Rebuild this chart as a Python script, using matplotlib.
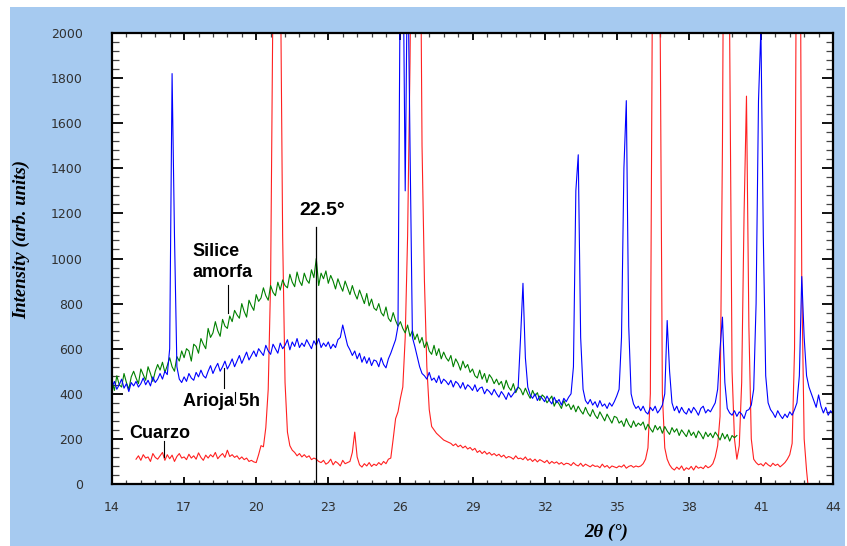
import numpy as np
import matplotlib
matplotlib.use('Agg')
import matplotlib.pyplot as plt
from matplotlib.patches import Rectangle

### Difractogramas (paso de 0.1 grados en 2theta)

# Cuarzo, de 15.0 a 43.0
cuarzo_x0, cuarzo_paso = 15.0, 0.1
cuarzo = [
    110, 125, 105, 130, 115, 120, 100, 135, 118, 110,   # 15
    125, 140, 105, 130, 112, 128, 100, 122, 135, 115,   # 16
    120, 108, 132, 115, 125, 110, 138, 118, 105, 128,   # 17
    115, 130, 120, 140, 112, 125, 135, 118, 150, 122,   # 18
    130, 118, 125, 110, 120, 108, 115, 100, 105, 98,    # 19
    95, 130, 170, 165, 250, 420, 900, 2200, 3400, 3400, # 20
    2400, 1100, 450, 230, 170, 150, 140, 125, 135, 120, # 21
    130, 118, 125, 108, 115, 110, 100, 95, 105, 88,     # 22
    95, 110, 85, 100, 92, 80, 105, 90, 95, 100,         # 23
    140, 230, 120, 85, 75, 90, 80, 95, 78, 88,          # 24
    82, 95, 85, 100, 90, 110, 115, 200, 290, 320,       # 25
    380, 430, 650, 1100, 1870, 3000, 4000, 4000, 3000, 1500,  # 26
    900, 520, 330, 255, 240, 225, 215, 205, 195, 190,   # 27
    185, 180, 170, 178, 165, 172, 160, 168, 155, 162,   # 28
    150, 158, 140, 148, 135, 145, 132, 140, 128, 135,   # 29
    125, 132, 120, 128, 115, 122, 118, 110, 125, 112,   # 30
    115, 108, 120, 105, 112, 100, 110, 98, 108, 102,    # 31
    95, 105, 90, 100, 92, 98, 88, 95, 85, 92,           # 32
    90, 82, 95, 85, 80, 92, 78, 88, 82, 76,             # 33
    85, 78, 80, 72, 88, 75, 82, 70, 80, 76,             # 34
    72, 80, 75, 85, 70, 78, 82, 74, 80, 76,             # 35
    80, 90, 110, 160, 400, 2500, 3800, 3800, 2200, 400, # 36
    160, 110, 85, 70, 62, 75, 65, 80, 60, 72,           # 37
    65, 78, 62, 80, 70, 75, 68, 82, 72, 78,             # 38
    90, 120, 170, 300, 1500, 3500, 3500, 2000, 500, 200,  # 39
    110, 170, 450, 1200, 1720, 700, 200, 110, 95, 85,   # 40
    90, 80, 95, 85, 78, 92, 82, 88, 76, 85,             # 41
    95, 110, 130, 180, 600, 3000, 3500, 900, 200, 60,   # 42
    -50,                                                # 43
]

# Arioja 5h, de 14.0 a 44.0
arioja_x0, arioja_paso = 14.0, 0.1
arioja = [
    430, 455, 420, 440, 465, 425, 445, 410, 450, 435,   # 14
    455, 430, 445, 470, 440, 460, 435, 475, 450, 465,   # 15
    490, 465, 500, 485, 600, 1820, 1100, 520, 465, 450, # 16
    475, 455, 490, 470, 460, 495, 475, 505, 480, 470,   # 17
    500, 525, 490, 515, 535, 500, 520, 545, 510, 530,   # 18
    555, 520, 545, 570, 535, 560, 585, 550, 570, 590,   # 19
    565, 600, 585, 570, 615, 590, 575, 620, 600, 580,   # 20
    625, 600, 615, 640, 595, 630, 610, 645, 605, 625,   # 21
    610, 640, 620, 600, 635, 615, 645, 605, 625, 610,   # 22
    630, 600, 620, 605, 640, 650, 705, 660, 615, 595,   # 23
    570, 590, 555, 580, 540, 565, 535, 560, 525, 550,   # 24
    545, 520, 560, 530, 515, 555, 580, 610, 640, 700,   # 25
    2400, 2500, 1300, 2400, 1500, 650, 610, 565, 520, 490,  # 26
    480, 465, 495, 460, 470, 450, 480, 445, 465, 455,   # 27
    440, 460, 430, 455, 445, 425, 450, 420, 440, 430,   # 28
    415, 440, 410, 425, 430, 400, 420, 410, 395, 420,   # 29
    400, 385, 410, 395, 375, 405, 385, 400, 415, 430,   # 30
    650, 890, 560, 430, 395, 380, 400, 370, 390, 380,   # 31
    365, 390, 370, 355, 385, 360, 375, 350, 380, 365,   # 32
    385, 400, 520, 1300, 1460, 650, 420, 370, 355, 375, # 33
    350, 365, 340, 370, 345, 355, 335, 360, 345, 365,   # 34
    390, 420, 650, 1400, 1700, 700, 400, 355, 335, 345, # 35
    325, 345, 320, 310, 340, 325, 345, 315, 330, 350,   # 36
    400, 725, 500, 360, 325, 345, 315, 340, 320, 310,   # 37
    335, 315, 340, 325, 305, 335, 345, 315, 330, 320,   # 38
    340, 360, 420, 600, 740, 450, 335, 315, 305, 325,   # 39
    300, 320, 310, 290, 325, 330, 350, 420, 800, 1700,  # 40
    2020, 1100, 480, 360, 330, 315, 295, 325, 305, 290, # 41
    310, 295, 320, 305, 330, 360, 480, 920, 650, 480,   # 42
    430, 400, 370, 340, 395, 345, 315, 340, 305, 325,   # 43
    310,                                                # 44
]

# Silice amorfa, de 14.0 a 40.0
silice_x0, silice_paso = 14.0, 0.1
silice = [
    455, 415, 480, 440, 430, 490, 450, 420, 475, 500,   # 14
    470, 445, 510, 485, 460, 520, 490, 455, 500, 530,   # 15
    505, 540, 495, 525, 560, 520, 500, 565, 545, 590,   # 16
    560, 600, 590, 545, 620, 610, 580, 645, 620, 600,   # 17
    690, 650, 670, 720, 680, 655, 730, 700, 690, 745,   # 18
    720, 770, 750, 735, 800, 765, 740, 815, 790, 770,   # 19
    840, 810, 825, 870, 835, 815, 880, 850, 835, 895,   # 20
    860, 905, 880, 870, 930, 895, 875, 940, 900, 880,   # 21
    935, 905, 890, 950, 915, 1000, 880, 935, 910, 945,  # 22
    890, 925, 900, 865, 910, 880, 855, 900, 870, 840,   # 23
    880, 845, 820, 860, 830, 800, 845, 790, 820, 780,   # 24
    770, 800, 760, 745, 785, 735, 720, 760, 725, 700,   # 25
    720, 690, 670, 705, 655, 680, 640, 665, 625, 650,   # 26
    605, 630, 590, 575, 615, 570, 600, 555, 585, 560,   # 27
    545, 570, 520, 555, 535, 505, 545, 515, 530, 495,   # 28
    510, 480, 470, 505, 465, 490, 450, 485, 470, 445,   # 29
    465, 440, 455, 420, 460, 430, 415, 445, 405, 430,   # 30
    420, 395, 425, 400, 380, 415, 390, 405, 370, 395,   # 31
    385, 360, 375, 390, 345, 370, 355, 335, 370, 345,   # 32
    355, 330, 350, 320, 345, 325, 310, 340, 315, 300,   # 33
    330, 305, 290, 320, 300, 280, 310, 290, 270, 300,   # 34
    295, 270, 280, 255, 290, 265, 250, 280, 255, 270,   # 35
    260, 275, 240, 265, 245, 230, 260, 240, 255, 225,   # 36
    255, 235, 220, 250, 230, 245, 215, 240, 225, 210,   # 37
    240, 215, 230, 205, 235, 220, 200, 230, 210, 225,   # 38
    205, 230, 215, 195, 225, 200, 220, 190, 215, 205,   # 39
    215,                                                # 40
]

pico = 22.5  # maximo de la banda amorfa

xticks = [14, 17, 20, 23, 26, 29, 32, 35, 38, 41, 44]

def eje(x0, paso, y):
    return np.round(x0 + paso*np.arange(len(y)), 2)

### Figura

fondo = '#A6CAF0'
fig = plt.figure(figsize=(8.47, 5.46), dpi=100)
fig.patch.set_facecolor('white')
fig.patches.append(Rectangle((10/847, 0), 835/847, 539/546, transform=fig.transFigure,
                             facecolor=fondo, edgecolor='none', zorder=-10))

ax = fig.add_axes([112/847, 62/546, 721/847, 451/546])
ax.set_facecolor('white')

ax.plot(eje(cuarzo_x0, cuarzo_paso, cuarzo), cuarzo, color='#FF2020', lw=0.8)
ax.plot(eje(silice_x0, silice_paso, silice), silice, color='#008000', lw=0.8)
ax.plot(eje(arioja_x0, arioja_paso, arioja), arioja, color='#0000FF', lw=0.8)

ax.set_xlim(14, 44)
ax.set_ylim(0, 2000)
ax.set_xticks(xticks)
ax.set_xticks(np.arange(14, 44.01, 0.6), minor=True)
ax.set_yticks(np.arange(0, 2001, 200))
ax.set_yticks(np.arange(0, 2001, 40), minor=True)

for s in ax.spines.values():
    s.set_linewidth(1.6)
    s.set_color('black')

ax.tick_params(axis='x', which='major', direction='in', length=5, width=1.3,
               top=True, labelsize=9, labelcolor='#303030', pad=12)
ax.tick_params(axis='x', which='minor', direction='in', length=3, width=0.9,
               top=True, color='#444444')
ax.tick_params(axis='y', which='major', direction='in', length=8, width=1.3,
               right=True, labelsize=9, labelcolor='#303030', pad=21)
ax.tick_params(axis='y', which='minor', direction='in', length=5, width=0.9,
               right=True, color='#444444')

fig.text(22/847, 1-160/546, 'Intensity (arb. units)', rotation=90, ha='center', va='top',
         family='Liberation Serif', fontweight='bold', fontstyle='italic', fontsize=13.5)
fig.text(628/847, 1-532/546, '2θ (°)', ha='right', va='center',
         family='Liberation Serif', fontweight='bold', fontstyle='italic', fontsize=13.5)

### Anotaciones

ax.plot([pico, pico], [0, 1140], color='black', lw=0.9)
ax.text(22.74, 1215, '22.5°', ha='center', va='center', family='Liberation Sans',
        fontweight='bold', fontsize=14)

ax.text(17.33, 1033, 'Silice', ha='left', va='center', family='Liberation Sans',
        fontweight='bold', fontsize=13)
ax.text(17.33, 940, 'amorfa', ha='left', va='center', family='Liberation Sans',
        fontweight='bold', fontsize=13)
ax.plot([18.83, 18.83], [758, 882], color='black', lw=0.8)

ax.text(16.95, 368, 'Arioja 5h', ha='left', va='center', family='Liberation Sans',
        fontweight='bold', fontsize=13)
ax.plot([18.66, 18.66], [426, 514], color='black', lw=0.8)
ax.plot([19.12, 19.12], [359, 408], color='black', lw=0.8)

ax.text(14.71, 226, 'Cuarzo', ha='left', va='center', family='Liberation Sans',
        fontweight='bold', fontsize=13)
ax.plot([16.16, 16.16], [120, 191], color='black', lw=0.8)

plt.savefig('out.png', dpi=100, facecolor=fig.get_facecolor())
